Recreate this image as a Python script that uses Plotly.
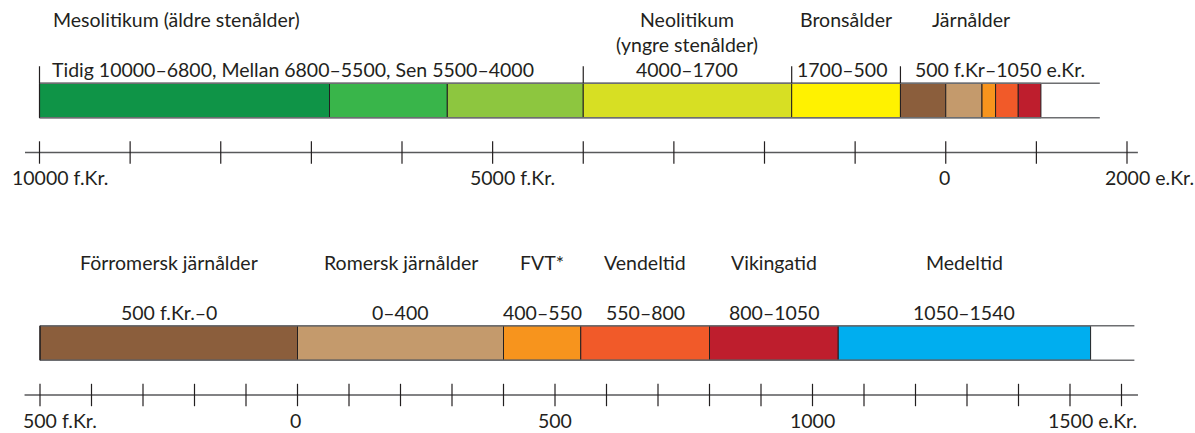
import plotly.graph_objects as go

# ---------------- data ----------------
top_starts = [-10000, -6800, -5500, -4000, -1700, -500, 0, 400, 550, 800]
top_ends = [-6800, -5500, -4000, -1700, -500, 0, 400, 550, 800, 1050]
top_colors = ["#0f9447", "#39b54a", "#8dc63f", "#d7df23", "#fff200",
              "#8b5e3c", "#c49a6c", "#f7941d", "#f15a29", "#be1e2d"]
top_box_end = 1700
top_markers = [-10000, -4000, -1700, -500]
top_ticks = list(range(-10000, 2001, 1000))
top_tick_vals = [-10000, -5000, 0, 2000]
top_tick_nums = ["10000", "5000", "0", "2000"]
top_tick_suffix = [" f.Kr.", " f.Kr.", "", " e.Kr."]

bot_names = ["Förromersk järnålder", "Romersk järnålder", "FVT*", "Vendeltid", "Vikingatid", "Medeltid"]
bot_ranges = ["500 f.Kr.–0", "0–400", "400–550", "550–800", "800–1050", "1050–1540"]
bot_starts = [-500, 0, 400, 550, 800, 1050]
bot_ends = [0, 400, 550, 800, 1050, 1540]
bot_colors = ["#8b5e3c", "#c49a6c", "#f7941d", "#f15a29", "#be1e2d", "#00aeef"]
bot_box_end = 1625
bot_ticks = list(range(-500, 1601, 100))
bot_tick_vals = [-500, 0, 500, 1000, 1500]
bot_tick_nums = ["500", "0", "500", "1000", "1500"]
bot_tick_suffix = [" f.Kr.", "", "", "", " e.Kr."]

# ---------------- style ----------------
W, H = 1195, 433
FONT = "Lato"
FS = 19.5
TXT = "#231f20"
EDGE = "#231f20"
BOX = "#6d6e71"
AX = "#58595b"
DIGIT_W = 10.2

# pixel layout (y axis is in pixels, reversed)
TOP_BAR_Y, BAR_H = 100.5, 34.5
TOP_AXIS_Y = 152.5
BOT_BAR_Y = 343
BOT_AXIS_Y = 395

# x mappings (years -> pixel via axis ranges)
top_scale = 1087.5 / 12000
top_r0 = -10000 - 39.5 / top_scale
top_r1 = top_r0 + W / top_scale
bot_scale = 1030 / 2000
bot_r0 = -500 - 40 / bot_scale
bot_r1 = bot_r0 + W / bot_scale

fig = go.Figure()

def add_bars(starts, ends, colors, yc, xa):
    fig.add_trace(go.Bar(
        orientation="h", base=starts, x=[e - s for s, e in zip(starts, ends)],
        y=[yc] * len(starts), width=BAR_H, xaxis=xa, yaxis="y",
        marker=dict(color=colors, line=dict(color=EDGE, width=1)),
        hoverinfo="skip", showlegend=False))

def add_box(x0, x1, yc, xa):
    for yy in (yc - BAR_H / 2, yc + BAR_H / 2):
        fig.add_trace(go.Scatter(x=[x0, x1], y=[yy, yy], mode="lines", xaxis=xa, yaxis="y",
                                 line=dict(color=BOX, width=1.6), hoverinfo="skip", showlegend=False))
    fig.add_trace(go.Scatter(x=[x0, x0], y=[yc - BAR_H / 2, yc + BAR_H / 2], mode="lines",
                             xaxis=xa, yaxis="y", line=dict(color=EDGE, width=1.2),
                             hoverinfo="skip", showlegend=False))

def add_axis(x0, x1, ticks, yc, xa):
    fig.add_trace(go.Scatter(x=[x0, x1], y=[yc, yc], mode="lines", xaxis=xa, yaxis="y",
                             line=dict(color=AX, width=1.6), hoverinfo="skip", showlegend=False))
    fig.add_trace(go.Scatter(x=ticks, y=[yc] * len(ticks), mode="markers", xaxis=xa, yaxis="y",
                             marker=dict(symbol="line-ns", size=16, line=dict(color=EDGE, width=1.2)),
                             hoverinfo="skip", showlegend=False))

def ann(x, y, text, xref="x", xanchor="center", xshift=0):
    fig.add_annotation(x=x, y=y, xref=xref, yref="y", text=text, showarrow=False,
                       xanchor=xanchor, yanchor="middle", xshift=xshift,
                       font=dict(family=FONT, size=FS, color=TXT))

def add_tick_labels(vals, nums, suffix, yc, xref):
    for v, n, s in zip(vals, nums, suffix):
        ann(v, yc + 25, n + s, xref=xref, xanchor="left", xshift=-len(n) * DIGIT_W / 2 - 4)

# ---- top timeline ----
add_bars(top_starts, top_ends, top_colors, TOP_BAR_Y, "x")
add_box(top_starts[0], top_box_end, TOP_BAR_Y, "x")
for m in top_markers:
    fig.add_trace(go.Scatter(x=[m, m], y=[TOP_BAR_Y - BAR_H / 2, TOP_BAR_Y - BAR_H / 2 - 17],
                             mode="lines", xaxis="x", yaxis="y", line=dict(color=EDGE, width=1.2),
                             hoverinfo="skip", showlegend=False))
add_axis(-10160, 2120, top_ticks, TOP_AXIS_Y, "x")
add_tick_labels(top_tick_vals, top_tick_nums, top_tick_suffix, TOP_AXIS_Y, "x")

ann(-10000, 19, "Mesolitikum (äldre stenålder)", xanchor="left", xshift=11)
ann(-10000, 69.5, "Tidig 10000–6800, Mellan 6800–5500, Sen 5500–4000", xanchor="left", xshift=10)
neo_mid = (top_starts[3] + top_ends[3]) / 2
ann(neo_mid, 19, "Neolitikum")
ann(neo_mid, 44, "(yngre stenålder)")
ann(neo_mid, 69.5, "4000–1700")
ann((top_starts[4] + top_ends[4]) / 2, 19, "Bronsålder")
ann(top_starts[4], 69.5, "1700–500", xanchor="left", xshift=3)
ann((top_starts[5] + top_ends[-1]) / 2, 19, "Järnålder")
ann(top_starts[5], 69.5, "500 f.Kr–1050 e.Kr.", xanchor="left", xshift=13)

# ---- bottom timeline ----
add_bars(bot_starts, bot_ends, bot_colors, BOT_BAR_Y, "x2")
add_box(bot_starts[0], bot_box_end, BOT_BAR_Y, "x2")
add_axis(-530, 1632, bot_ticks, BOT_AXIS_Y, "x2")
add_tick_labels(bot_tick_vals, bot_tick_nums, bot_tick_suffix, BOT_AXIS_Y, "x2")
for n, r, s, e in zip(bot_names, bot_ranges, bot_starts, bot_ends):
    ann((s + e) / 2, 262, n, xref="x2")
    ann((s + e) / 2, 312, r, xref="x2")

fig.update_layout(
    width=W, height=H, margin=dict(l=0, r=0, t=0, b=0),
    paper_bgcolor="white", plot_bgcolor="white", showlegend=False, barmode="overlay",
    xaxis=dict(range=[top_r0, top_r1], visible=False, domain=[0, 1], fixedrange=True),
    xaxis2=dict(range=[bot_r0, bot_r1], visible=False, overlaying="x", anchor="y", fixedrange=True),
    yaxis=dict(range=[H, 0], visible=False, domain=[0, 1], fixedrange=True),
)

fig.write_html("out.html", config={"displayModeBar": False},
               post_script="document.body.style.margin='0';document.body.style.overflow='hidden';")
